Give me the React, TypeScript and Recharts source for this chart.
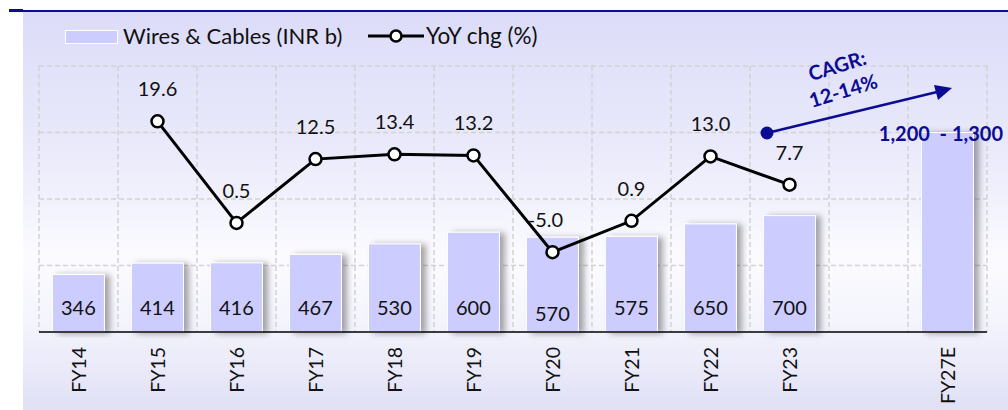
import React from "react";
import { Bar, CartesianGrid, ComposedChart, LabelList, Line, XAxis, YAxis } from "recharts";

const years = ["FY14", "FY15", "FY16", "FY17", "FY18", "FY19", "FY20", "FY21", "FY22", "FY23", " ", "FY27E"];
const wiresCables = [346, 414, 416, 467, 530, 600, 570, 575, 650, 700, null, 1200];
const yoyChange = [null, 19.6, 0.5, 12.5, 13.4, 13.2, -5.0, 0.9, 13.0, 7.7, null, null];
const salesTicks = [0, 400, 800, 1200, 1600];
const yoyDomain = [-20, 30];

const data = years.map((year, i) => ({
  year,
  sales: wiresCables[i],
  salesLabel: year === "FY27E" ? null : wiresCables[i],
  yoy: yoyChange[i],
}));

const FONT = "Lato, 'Open Sans', sans-serif";
const NAVY = "#0b0b94";
const BAR = "#ccccff";

function YearTick({ x, y, payload }: any) {
  return (
    <g transform={`translate(${x},${y})`}>
      <text transform="rotate(-90)" textAnchor="end" dy="0.36em" fontSize={19.5} fontFamily={FONT} fill="#111">
        {payload.value}
      </text>
    </g>
  );
}

function SalesLabel({ x, y, width, height, value }: any) {
  if (value == null) return null;
  // FY20 label sits a little lower in the source
  const shift = value === 570 ? 6 : 0;
  return (
    <text
      x={x + width / 2}
      y={y + height - 25 + shift}
      textAnchor="middle"
      dominantBaseline="central"
      fontSize={20}
      fontFamily={FONT}
      fill="#111"
    >
      {value}
    </text>
  );
}

function YoyLabel({ x, y, value }: any) {
  if (value == null) return null;
  const dx = value < 0 ? -7 : 0;
  return (
    <text x={x + dx} y={y - 33} textAnchor="middle" dominantBaseline="central" fontSize={20} fontFamily={FONT} fill="#111">
      {Number(value).toFixed(1)}
    </text>
  );
}

function ShadowBar({ x, y, width, height }: any) {
  if (!height) return null;
  return <rect x={x} y={y} width={width} height={height} fill={BAR} stroke="#fff" strokeWidth={1} filter="url(#barShadow)" />;
}

export default function App() {
  return (
    <div style={{ position: "absolute", left: 0, top: 0, width: 1008, height: 410, fontFamily: FONT, background: "#fff", overflow: "hidden" }}>
      <div style={{ position: "absolute", left: 9, top: 9, width: 14, height: 3, background: NAVY }} />
      <div style={{ position: "absolute", left: 22, top: 10, width: 986, height: 1.5, background: NAVY }} />
      <div
        style={{
          position: "absolute",
          left: 23,
          top: 12,
          width: 985,
          height: 398,
          background: "linear-gradient(180deg, #dcdcf9 0%, #eaeafb 35%, #fbfbff 62%, #f4f4fd 78%, #e0e0f6 100%)",
        }}
      />
      {/* legend */}
      <div style={{ position: "absolute", left: 65, top: 30, width: 51, height: 12, background: BAR, border: "1px solid #fff" }} />
      <div style={{ position: "absolute", left: 123, top: 22, fontSize: 22, color: "#111", whiteSpace: "nowrap" }}>Wires &amp; Cables (INR b)</div>
      <svg style={{ position: "absolute", left: 368, top: 26 }} width={56} height={20}>
        <line x1={0} y1={10} x2={56} y2={10} stroke="#000" strokeWidth={3} />
        <circle cx={28} cy={10} r={5.5} fill="#fff" stroke="#000" strokeWidth={2.5} />
      </svg>
      <div style={{ position: "absolute", left: 426, top: 22, fontSize: 22.5, color: "#111", whiteSpace: "nowrap" }}>YoY chg (%)</div>

      <div style={{ position: "absolute", left: 0, top: 0 }}>
        <ComposedChart width={1008} height={410} data={data} margin={{ top: 66, right: 21, bottom: 0, left: 39 }} barCategoryGap="17%">
          <defs>
            <filter id="barShadow" x="-30%" y="-10%" width="160%" height="120%">
              <feDropShadow dx={5} dy={1} stdDeviation={3} floodColor="#000" floodOpacity={0.35} />
            </filter>
          </defs>
          <CartesianGrid
            stroke="#d2d2d2"
            strokeDasharray="5 3"
            strokeWidth={1.5}
            horizontalCoordinatesGenerator={({ offset }: any) =>
              salesTicks.slice(1).map((_, i) => offset.top + (offset.height * i) / (salesTicks.length - 1))
            }
            verticalCoordinatesGenerator={({ offset }: any) =>
              years.map((_, i) => offset.left + (offset.width * i) / years.length).concat(offset.left + offset.width)
            }
          />
          <XAxis
            dataKey="year"
            height={78}
            tickLine={false}
            tickSize={0}
            tickMargin={15}
            axisLine={{ stroke: "#000", strokeWidth: 1.5 }}
            tick={<YearTick />}
            interval={0}
          />
          <YAxis yAxisId="sales" hide domain={[0, 1600]} ticks={salesTicks} />
          <YAxis yAxisId="yoy" orientation="right" hide domain={yoyDomain} />
          <Bar yAxisId="sales" dataKey="sales" shape={<ShadowBar />} isAnimationActive={false}>
            <LabelList dataKey="salesLabel" content={<SalesLabel />} />
          </Bar>
          <Line
            yAxisId="yoy"
            dataKey="yoy"
            stroke="#000"
            strokeWidth={3}
            dot={{ r: 6, fill: "#fff", stroke: "#000", strokeWidth: 2.5 }}
            activeDot={false}
            isAnimationActive={false}
          >
            <LabelList dataKey="yoy" content={<YoyLabel />} />
          </Line>
        </ComposedChart>
      </div>

      {/* CAGR annotation */}
      <svg style={{ position: "absolute", left: 0, top: 0, pointerEvents: "none" }} width={1008} height={410}>
        <line x1={767} y1={133} x2={937} y2={92} stroke={NAVY} strokeWidth={2.5} />
        <polygon points="952,88 934,85 938,100" fill={NAVY} />
        <circle cx={767} cy={133} r={6.5} fill={NAVY} />
        <g transform="translate(837,65) rotate(-17)">
          <text textAnchor="middle" dominantBaseline="central" fontSize={20} fontWeight={700} fontFamily={FONT} fill={NAVY}>
            CAGR:
          </text>
        </g>
        <g transform="translate(843,90) rotate(-17)">
          <text textAnchor="middle" dominantBaseline="central" fontSize={20} fontWeight={700} fontFamily={FONT} fill={NAVY}>
            12-14%
          </text>
        </g>
        <text x={1003} y={133} textAnchor="end" dominantBaseline="central" fontSize={20} fontWeight={700} fontFamily={FONT} fill={NAVY} xmlSpace="preserve">
          1,200  - 1,300
        </text>
      </svg>
    </div>
  );
}
